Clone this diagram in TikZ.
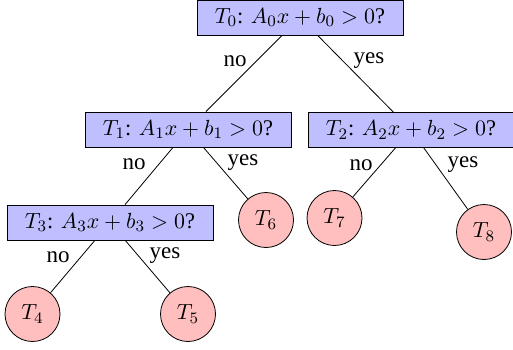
\documentclass[tikz,border=0pt]{standalone}
\usepackage[no-math]{fontspec}
\setmainfont{Liberation Serif}
\begin{document}
\begin{tikzpicture}[x=0.5pt,y=-0.5pt,
  test/.style={draw, fill=blue!25, inner sep=0pt, minimum width=103pt, minimum height=17.5pt, font=\fontsize{11.2}{13}\selectfont},
  leaf/.style={draw, circle, fill=red!25, inner sep=0pt, minimum size=27.5pt, font=\fontsize{11.2}{13}\selectfont},
  lbl/.style={font=\fontsize{11.5}{13}\selectfont, inner sep=0pt}]
\useasboundingbox (0,0) rectangle (513,349);
\node[test] (t0) at (300,17.5) {$T_0$: $A_0x+b_0>0$?};
\node[test] (t1) at (188,129.5) {$T_1$: $A_1x+b_1>0$?};
\node[test] (t2) at (411,130) {$T_2$: $A_2x+b_2>0$?};
\node[test] (t3) at (110,222.5) {$T_3$: $A_3x+b_3>0$?};
\node[leaf] (t4) at (32.5,314) {$T_4$};
\node[leaf] (t5) at (188,314) {$T_5$};
\node[leaf] (t6) at (266,220) {$T_6$};
\node[leaf] (t7) at (334.5,218) {$T_7$};
\node[leaf] (t8) at (484,232) {$T_8$};
\draw (t0) -- (t1); \draw (t0) -- (t2);
\draw (t1) -- (t3); \draw (t1) -- (t6);
\draw (t2) -- (t7); \draw (t2) -- (t8);
\draw (t3) -- (t4); \draw (t3) -- (t5);
\node[lbl] (l0n) at (235,61) {no};
\node[lbl] (l0y) at (369,61) {yes};
\node[lbl] (l1n) at (134,164) {no};
\node[lbl] (l1y) at (243,163) {yes};
\node[lbl] (l2n) at (361,165) {no};
\node[lbl] (l2y) at (463,165) {yes};
\node[lbl] (l3n) at (58,257) {no};
\node[lbl] (l3y) at (165,256) {yes};
\end{tikzpicture}
\end{document}
